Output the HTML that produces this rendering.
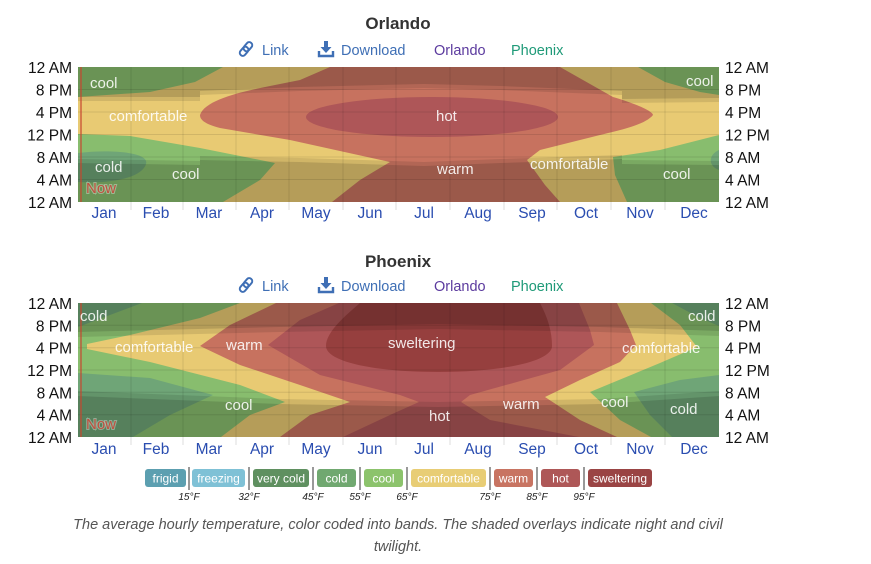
<!DOCTYPE html>
<html><head><meta charset="utf-8"><style>
html,body{margin:0;padding:0;background:#fff;}
svg{display:block;font-family:"Liberation Sans",sans-serif;}
.ax{font-size:15.5px;fill:#111;}
.mo{font-size:15.5px;fill:#2a4db0;text-anchor:middle;}
.lb{font-size:15px;fill:rgba(255,255,255,0.88);}
.lk{font-size:14.5px;fill:#3f6fb5;}
.lg{font-size:12px;fill:#fff;text-anchor:middle;}
.tf{font-size:10px;fill:#222;font-style:italic;text-anchor:middle;}
</style></head><body>
<svg width="871" height="564" viewBox="0 0 871 564">
<defs>
<clipPath id="c1"><rect x="78" y="67" width="641" height="135"/></clipPath>
<clipPath id="c2"><rect x="78" y="303" width="641" height="134"/></clipPath>
<g id="linkicon"><rect x="-3" y="-8" width="6" height="10" rx="3" fill="none" stroke="#3f6fb5" stroke-width="2" transform="rotate(40)"/><rect x="-3" y="-2" width="6" height="10" rx="3" fill="none" stroke="#3f6fb5" stroke-width="2" transform="rotate(40)"/></g>
<g id="dlicon"><path d="M-2,-8 h4 v6 h3.5 l-5.5,6 l-5.5,-6 h3.5z" fill="#3f6fb5"/><path d="M-7,2 v5 h14 v-5" fill="none" stroke="#3f6fb5" stroke-width="2.4"/></g>
</defs>

<!-- ===== ORLANDO ===== -->
<text x="398" y="29" text-anchor="middle" font-size="17" font-weight="bold" fill="#333">Orlando</text>
<use href="#linkicon" x="246" y="49"/>
<text class="lk" x="262" y="55">Link</text>
<use href="#dlicon" x="326" y="49"/>
<text class="lk" x="341" y="55">Download</text>
<text class="lk" x="434" y="55" style="fill:#5b3a9e">Orlando</text>
<text class="lk" x="511" y="55" style="fill:#1f9a78">Phoenix</text>

<g clip-path="url(#c1)">
<rect x="78" y="67" width="641" height="135" fill="#88bd6e"/>
<path d="M78,153 C110,149 150,152 146,164 C142,178 110,184 78,182Z" fill="#6fa577"/>
<path d="M719,150 C708,155 708,166 719,170Z" fill="#6fa577"/>
<path d="M78,97 L150,92 L195,82 L223,67 L638,67 L665,82 L700,92 L719,95 L719,135 L660,150 L613,157 L615,175 L627,202 L223,202 L260,180 L275,163 L200,148 L130,136 L78,134Z" fill="#e8ca73"/>
<path d="M200,115 C205,100 240,92 270,86 L300,80 L330,67 L560,67 L613,97 C640,105 653,112 653,115 C645,125 620,130 600,135 L540,150 L527,160 L545,185 L560,202 L332,202 L360,180 L390,162 L290,140 L220,128 C205,124 200,120 200,115Z" fill="#c7725f"/>
<ellipse cx="432" cy="117" rx="126" ry="20" fill="#ae5658"/>
<path d="M78,67 L719,67 L719,98 L622,99 L622,91 L500,86 L424,84 L300,87 L200,91 L200,97 L78,97Z" fill="rgba(0,0,0,0.22)"/>
<path d="M78,97 L200,97 L200,91 L300,87 L424,84 L500,86 L622,91 L622,99 L719,98 L719,102 L622,103 L622,95 L500,90 L424,88 L300,91 L200,95 L200,101 L78,101Z" fill="rgba(0,0,0,0.1)"/>
<path d="M78,202 L719,202 L719,165 L622,164 L622,159 L500,163 L424,166 L300,162 L200,160 L200,165 L78,163Z" fill="rgba(0,0,0,0.22)"/>
<path d="M78,163 L200,165 L200,160 L300,162 L424,166 L500,163 L622,159 L622,164 L719,165 L719,161 L622,160 L622,155 L500,159 L424,162 L300,158 L200,156 L200,161 L78,159Z" fill="rgba(0,0,0,0.1)"/>
<g stroke="rgba(0,0,0,0.1)" stroke-width="1">
<line x1="131" y1="67" x2="131" y2="202"/><line x1="183" y1="67" x2="183" y2="202"/><line x1="236" y1="67" x2="236" y2="202"/><line x1="289" y1="67" x2="289" y2="202"/><line x1="343" y1="67" x2="343" y2="202"/><line x1="396" y1="67" x2="396" y2="202"/><line x1="450" y1="67" x2="450" y2="202"/><line x1="504" y1="67" x2="504" y2="202"/><line x1="557" y1="67" x2="557" y2="202"/><line x1="611" y1="67" x2="611" y2="202"/><line x1="665" y1="67" x2="665" y2="202"/>
<line x1="78" y1="89.5" x2="719" y2="89.5"/><line x1="78" y1="112" x2="719" y2="112"/><line x1="78" y1="134.5" x2="719" y2="134.5"/><line x1="78" y1="157" x2="719" y2="157"/><line x1="78" y1="179.5" x2="719" y2="179.5"/>
</g>
<line x1="81" y1="67" x2="81" y2="202" stroke="#c8462f" stroke-width="1.2"/>
</g>
<text class="lb" x="90" y="88">cool</text>
<text class="lb" x="109" y="121">comfortable</text>
<text class="lb" x="436" y="121">hot</text>
<text class="lb" x="95" y="172">cold</text>
<text class="lb" x="172" y="179">cool</text>
<text class="lb" x="437" y="174">warm</text>
<text class="lb" x="530" y="169">comfortable</text>
<text class="lb" x="686" y="86">cool</text>
<text class="lb" x="663" y="179">cool</text>
<text x="86" y="193" font-size="15" fill="#c0503f" stroke="rgba(255,255,255,0.35)" stroke-width="2" paint-order="stroke">Now</text>
<g class="ax" text-anchor="end">
<text x="72" y="73">12 AM</text><text x="72" y="95.5">8 PM</text><text x="72" y="118">4 PM</text><text x="72" y="140.5">12 PM</text><text x="72" y="163">8 AM</text><text x="72" y="185.5">4 AM</text><text x="72" y="208">12 AM</text>
</g>
<g class="ax">
<text x="725" y="73">12 AM</text><text x="725" y="95.5">8 PM</text><text x="725" y="118">4 PM</text><text x="725" y="140.5">12 PM</text><text x="725" y="163">8 AM</text><text x="725" y="185.5">4 AM</text><text x="725" y="208">12 AM</text>
</g>
<g stroke="#ddd"><line x1="131" y1="202" x2="131" y2="210"/><line x1="183" y1="202" x2="183" y2="210"/><line x1="236" y1="202" x2="236" y2="210"/><line x1="289" y1="202" x2="289" y2="210"/><line x1="343" y1="202" x2="343" y2="210"/><line x1="396" y1="202" x2="396" y2="210"/><line x1="450" y1="202" x2="450" y2="210"/><line x1="504" y1="202" x2="504" y2="210"/><line x1="557" y1="202" x2="557" y2="210"/><line x1="611" y1="202" x2="611" y2="210"/><line x1="665" y1="202" x2="665" y2="210"/></g>
<g class="mo">
<text x="104" y="218">Jan</text><text x="156" y="218">Feb</text><text x="209" y="218">Mar</text><text x="262" y="218">Apr</text><text x="316" y="218">May</text><text x="370" y="218">Jun</text><text x="424" y="218">Jul</text><text x="478" y="218">Aug</text><text x="532" y="218">Sep</text><text x="586" y="218">Oct</text><text x="640" y="218">Nov</text><text x="694" y="218">Dec</text>
</g>

<!-- ===== PHOENIX ===== -->
<text x="398" y="267" text-anchor="middle" font-size="17" font-weight="bold" fill="#333">Phoenix</text>
<use href="#linkicon" x="246" y="285"/>
<text class="lk" x="262" y="291">Link</text>
<use href="#dlicon" x="326" y="285"/>
<text class="lk" x="341" y="291">Download</text>
<text class="lk" x="434" y="291" style="fill:#5b3a9e">Orlando</text>
<text class="lk" x="511" y="291" style="fill:#1f9a78">Phoenix</text>

<g clip-path="url(#c2)">
<rect x="78" y="303" width="641" height="134" fill="#6fa577"/>
<path d="M142,303 L672,303 L700,318 L719,326 L719,375 L680,380 L634,392 L650,415 L672,437 L133,437 L170,415 L213,395 L150,378 L78,373 L78,327 L110,315Z" fill="#88bd6e"/>
<path d="M240,303 L651,303 L680,325 L697,347 L660,363 L590,392 L620,420 L651,437 L221,437 L250,415 L285,402 L240,385 L150,362 L87,349 L87,344 L130,335 L200,318Z" fill="#e8ca73"/>
<path d="M276,303 L617,303 L630,330 L636,345 L620,362 L580,380 L545,397 L580,420 L617,437 L280,437 L310,415 L350,402 L300,385 L240,365 L200,346 L230,325Z" fill="#c7725f"/>
<path d="M339,303 L579,303 L590,330 L594,345 L560,370 L470,395 L461,402 L490,420 L579,437 L343,437 L390,415 L419,402 L400,395 L320,375 L268,345 L300,320Z" fill="#ae5658"/>
<path d="M360,303 L540,303 C548,318 552,332 552,346 C552,362 500,372 438,372 C376,372 326,362 326,346 C326,332 345,316 360,303Z" fill="#963f3e"/>
<path d="M78,303 L719,303 L719,331 L600,327 L438,324 L280,327 L78,332Z" fill="rgba(0,0,0,0.22)"/>
<path d="M78,332 L280,327 L438,324 L600,327 L719,331 L719,336 L600,332 L438,329 L280,332 L78,337Z" fill="rgba(0,0,0,0.1)"/>
<path d="M78,437 L719,437 L719,396 L600,404 L438,407 L280,404 L78,396Z" fill="rgba(0,0,0,0.22)"/>
<path d="M78,396 L280,404 L438,407 L600,404 L719,396 L719,391 L600,399 L438,402 L280,399 L78,391Z" fill="rgba(0,0,0,0.1)"/>
<g stroke="rgba(0,0,0,0.1)" stroke-width="1">
<line x1="131" y1="303" x2="131" y2="437"/><line x1="183" y1="303" x2="183" y2="437"/><line x1="236" y1="303" x2="236" y2="437"/><line x1="289" y1="303" x2="289" y2="437"/><line x1="343" y1="303" x2="343" y2="437"/><line x1="396" y1="303" x2="396" y2="437"/><line x1="450" y1="303" x2="450" y2="437"/><line x1="504" y1="303" x2="504" y2="437"/><line x1="557" y1="303" x2="557" y2="437"/><line x1="611" y1="303" x2="611" y2="437"/><line x1="665" y1="303" x2="665" y2="437"/>
<line x1="78" y1="325.3" x2="719" y2="325.3"/><line x1="78" y1="347.7" x2="719" y2="347.7"/><line x1="78" y1="370" x2="719" y2="370"/><line x1="78" y1="392.3" x2="719" y2="392.3"/><line x1="78" y1="414.7" x2="719" y2="414.7"/>
</g>
<line x1="81" y1="303" x2="81" y2="437" stroke="#c8462f" stroke-width="1.2"/>
</g>
<text class="lb" x="80" y="321">cold</text>
<text class="lb" x="115" y="352">comfortable</text>
<text class="lb" x="226" y="350">warm</text>
<text class="lb" x="388" y="348">sweltering</text>
<text class="lb" x="622" y="353">comfortable</text>
<text class="lb" x="688" y="321">cold</text>
<text class="lb" x="225" y="410">cool</text>
<text class="lb" x="429" y="421">hot</text>
<text class="lb" x="503" y="409">warm</text>
<text class="lb" x="601" y="407">cool</text>
<text class="lb" x="670" y="414">cold</text>
<text x="86" y="429" font-size="15" fill="#c0503f" stroke="rgba(255,255,255,0.35)" stroke-width="2" paint-order="stroke">Now</text>
<g class="ax" text-anchor="end">
<text x="72" y="309">12 AM</text><text x="72" y="331.3">8 PM</text><text x="72" y="353.7">4 PM</text><text x="72" y="376">12 PM</text><text x="72" y="398.3">8 AM</text><text x="72" y="420.7">4 AM</text><text x="72" y="443">12 AM</text>
</g>
<g class="ax">
<text x="725" y="309">12 AM</text><text x="725" y="331.3">8 PM</text><text x="725" y="353.7">4 PM</text><text x="725" y="376">12 PM</text><text x="725" y="398.3">8 AM</text><text x="725" y="420.7">4 AM</text><text x="725" y="443">12 AM</text>
</g>
<g stroke="#ddd"><line x1="131" y1="437" x2="131" y2="445"/><line x1="183" y1="437" x2="183" y2="445"/><line x1="236" y1="437" x2="236" y2="445"/><line x1="289" y1="437" x2="289" y2="445"/><line x1="343" y1="437" x2="343" y2="445"/><line x1="396" y1="437" x2="396" y2="445"/><line x1="450" y1="437" x2="450" y2="445"/><line x1="504" y1="437" x2="504" y2="445"/><line x1="557" y1="437" x2="557" y2="445"/><line x1="611" y1="437" x2="611" y2="445"/><line x1="665" y1="437" x2="665" y2="445"/></g>
<g class="mo">
<text x="104" y="454">Jan</text><text x="156" y="454">Feb</text><text x="209" y="454">Mar</text><text x="262" y="454">Apr</text><text x="316" y="454">May</text><text x="370" y="454">Jun</text><text x="424" y="454">Jul</text><text x="478" y="454">Aug</text><text x="532" y="454">Sep</text><text x="586" y="454">Oct</text><text x="640" y="454">Nov</text><text x="694" y="454">Dec</text>
</g>

<!-- ===== LEGEND ===== -->
<rect x="145" y="469" width="41" height="18" rx="3" fill="#5c9fb0"/><text class="lg" x="165.5" y="482.5">frigid</text>
<rect x="192" y="469" width="53" height="18" rx="3" fill="#7fc1d6"/><text class="lg" x="218.5" y="482.5">freezing</text>
<rect x="253" y="469" width="56" height="18" rx="3" fill="#5f9060"/><text class="lg" x="281" y="482.5">very cold</text>
<rect x="317" y="469" width="39" height="18" rx="3" fill="#70a870"/><text class="lg" x="336.5" y="482.5">cold</text>
<rect x="364" y="469" width="39" height="18" rx="3" fill="#8cc36c"/><text class="lg" x="383.5" y="482.5">cool</text>
<rect x="411" y="469" width="75" height="18" rx="3" fill="#e8cd75"/><text class="lg" x="448.5" y="482.5">comfortable</text>
<rect x="494" y="469" width="39" height="18" rx="3" fill="#c87462"/><text class="lg" x="513.5" y="482.5">warm</text>
<rect x="541" y="469" width="39" height="18" rx="3" fill="#ae5757"/><text class="lg" x="560.5" y="482.5">hot</text>
<rect x="588" y="469" width="64" height="18" rx="3" fill="#9a4444"/><text class="lg" x="620" y="482.5">sweltering</text>
<g stroke="#333" stroke-width="1"><line x1="189" y1="467" x2="189" y2="490"/><line x1="249" y1="467" x2="249" y2="490"/><line x1="313" y1="467" x2="313" y2="490"/><line x1="360" y1="467" x2="360" y2="490"/><line x1="407" y1="467" x2="407" y2="490"/><line x1="490" y1="467" x2="490" y2="490"/><line x1="537" y1="467" x2="537" y2="490"/><line x1="584" y1="467" x2="584" y2="490"/></g>
<text class="tf" x="189" y="500">15°F</text><text class="tf" x="249" y="500">32°F</text><text class="tf" x="313" y="500">45°F</text><text class="tf" x="360" y="500">55°F</text><text class="tf" x="407" y="500">65°F</text><text class="tf" x="490" y="500">75°F</text><text class="tf" x="537" y="500">85°F</text><text class="tf" x="584" y="500">95°F</text>

<text x="398" y="529" text-anchor="middle" font-size="14.5" font-style="italic" fill="#555">The average hourly temperature, color coded into bands. The shaded overlays indicate night and civil</text>
<text x="398" y="551" text-anchor="middle" font-size="14.5" font-style="italic" fill="#555">twilight.</text>
</svg>
</body></html>
